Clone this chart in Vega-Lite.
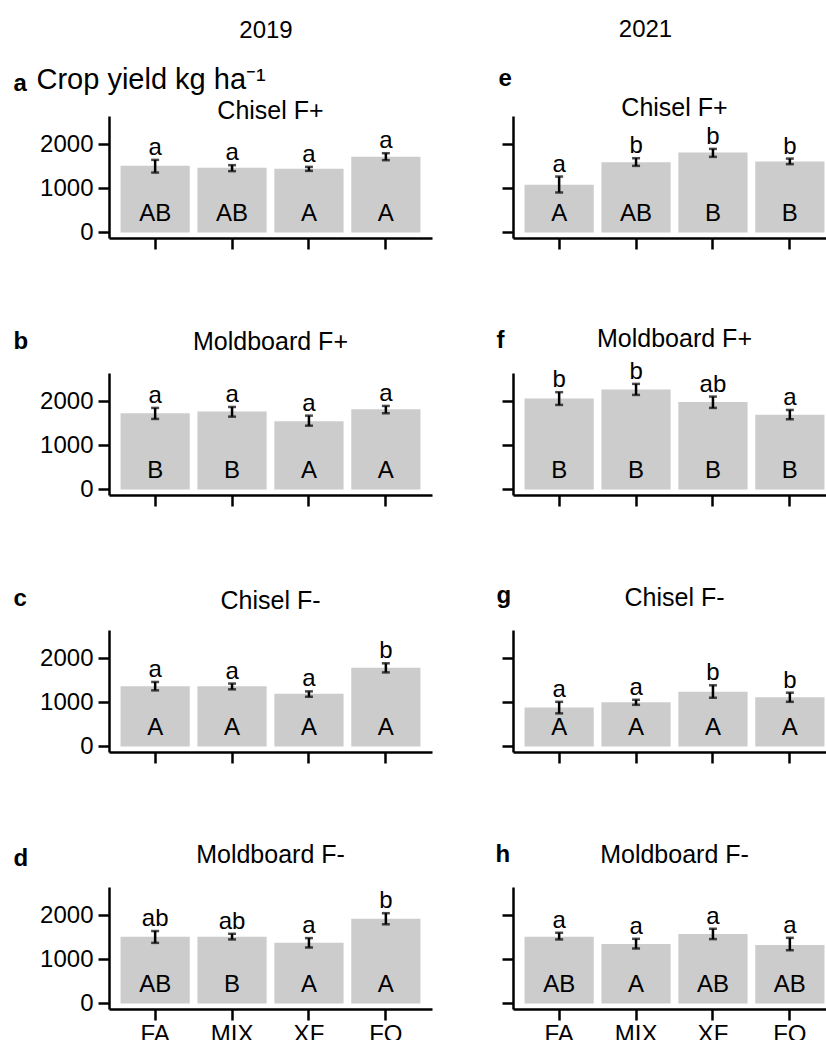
{
  "$schema": "https://vega.github.io/schema/vega-lite/v6.json",
  "usermeta": {"embedOptions": {"actions": false}},
  "padding": {"left": 13, "top": 17, "right": -10, "bottom": -5},
  "title": {"text": "2019", "anchor": "start", "frame": "bounds", "align": "center", "dx": 253, "offset": -44, "fontSize": 24, "fontWeight": "normal", "baseline": "alphabetic"},
  "datasets": {
    "yield": [
      {"panel": "a", "trt": "FA", "mean": 1509, "lo": 1357, "hi": 1645, "lower": "a", "upper": "AB"},
      {"panel": "a", "trt": "MIX", "mean": 1464, "lo": 1389, "hi": 1525, "lower": "a", "upper": "AB"},
      {"panel": "a", "trt": "XF", "mean": 1441, "lo": 1396, "hi": 1486, "lower": "a", "upper": "A"},
      {"panel": "a", "trt": "FO", "mean": 1713, "lo": 1638, "hi": 1796, "lower": "a", "upper": "A"},
      {"panel": "b", "trt": "FA", "mean": 1727, "lo": 1598, "hi": 1848, "lower": "a", "upper": "B"},
      {"panel": "b", "trt": "MIX", "mean": 1764, "lo": 1650, "hi": 1870, "lower": "a", "upper": "B"},
      {"panel": "b", "trt": "XF", "mean": 1545, "lo": 1445, "hi": 1673, "lower": "a", "upper": "A"},
      {"panel": "b", "trt": "FO", "mean": 1818, "lo": 1727, "hi": 1893, "lower": "a", "upper": "A"},
      {"panel": "c", "trt": "FA", "mean": 1363, "lo": 1271, "hi": 1462, "lower": "a", "upper": "A"},
      {"panel": "c", "trt": "MIX", "mean": 1363, "lo": 1294, "hi": 1425, "lower": "a", "upper": "A"},
      {"panel": "c", "trt": "XF", "mean": 1195, "lo": 1126, "hi": 1248, "lower": "a", "upper": "A"},
      {"panel": "c", "trt": "FO", "mean": 1784, "lo": 1678, "hi": 1885, "lower": "b", "upper": "A"},
      {"panel": "d", "trt": "FA", "mean": 1510, "lo": 1373, "hi": 1641, "lower": "ab", "upper": "AB"},
      {"panel": "d", "trt": "MIX", "mean": 1510, "lo": 1451, "hi": 1579, "lower": "ab", "upper": "B"},
      {"panel": "d", "trt": "XF", "mean": 1373, "lo": 1268, "hi": 1481, "lower": "a", "upper": "A"},
      {"panel": "d", "trt": "FO", "mean": 1922, "lo": 1794, "hi": 2046, "lower": "b", "upper": "A"},
      {"panel": "e", "trt": "FA", "mean": 1079, "lo": 905, "hi": 1267, "lower": "a", "upper": "A"},
      {"panel": "e", "trt": "MIX", "mean": 1593, "lo": 1509, "hi": 1683, "lower": "b", "upper": "AB"},
      {"panel": "e", "trt": "XF", "mean": 1810, "lo": 1713, "hi": 1894, "lower": "b", "upper": "B"},
      {"panel": "e", "trt": "FO", "mean": 1606, "lo": 1548, "hi": 1674, "lower": "b", "upper": "B"},
      {"panel": "f", "trt": "FA", "mean": 2059, "lo": 1916, "hi": 2205, "lower": "b", "upper": "B"},
      {"panel": "f", "trt": "MIX", "mean": 2264, "lo": 2143, "hi": 2393, "lower": "b", "upper": "B"},
      {"panel": "f", "trt": "XF", "mean": 1984, "lo": 1848, "hi": 2105, "lower": "ab", "upper": "B"},
      {"panel": "f", "trt": "FO", "mean": 1695, "lo": 1591, "hi": 1802, "lower": "a", "upper": "B"},
      {"panel": "g", "trt": "FA", "mean": 880, "lo": 749, "hi": 1011, "lower": "a", "upper": "A"},
      {"panel": "g", "trt": "MIX", "mean": 1002, "lo": 943, "hi": 1057, "lower": "a", "upper": "A"},
      {"panel": "g", "trt": "XF", "mean": 1241, "lo": 1103, "hi": 1386, "lower": "b", "upper": "A"},
      {"panel": "g", "trt": "FO", "mean": 1117, "lo": 1011, "hi": 1218, "lower": "b", "upper": "A"},
      {"panel": "h", "trt": "FA", "mean": 1510, "lo": 1451, "hi": 1602, "lower": "a", "upper": "AB"},
      {"panel": "h", "trt": "MIX", "mean": 1350, "lo": 1245, "hi": 1465, "lower": "a", "upper": "A"},
      {"panel": "h", "trt": "XF", "mean": 1572, "lo": 1458, "hi": 1693, "lower": "a", "upper": "AB"},
      {"panel": "h", "trt": "FO", "mean": 1327, "lo": 1206, "hi": 1487, "lower": "a", "upper": "AB"}
    ]
  },
  "data": {"name": "yield"},
  "columns": 2,
  "spacing": {"row": 135, "column": 81},
  "bounds": "flush",
  "concat": [
    {
      "width": 323, "height": 122,
      "title": {"text": "Chisel F+", "offset": -59},
      "transform": [{"filter": {"field": "panel", "equal": "a"}}],
      "encoding": {"x": {"field": "trt", "type": "nominal", "sort": ["FA", "MIX", "XF", "FO"], "scale": {"paddingInner": 0.1, "paddingOuter": 0.15},
        "axis": {"title": "Crop yield kg ha⁻¹", "titleX": -73, "titleY": -149.7, "titleFontSize": 29, "titleFontWeight": "normal", "labels": false}}},
      "layer": [
        {"mark": {"type": "bar", "color": "#cccccc"}, "encoding": {"y": {"field": "mean", "type": "quantitative", "scale": {"domain": [-127, 2640], "nice": false, "zero": false}, "axis": {"title": "a", "titleX": -96, "titleY": -26, "values": [0, 1000, 2000], "format": "d"}}}},
        {"mark": {"type": "rule", "color": "black", "strokeWidth": 2.5}, "encoding": {"y": {"field": "lo", "type": "quantitative"}, "y2": {"field": "hi"}}},
        {"mark": {"type": "tick", "color": "black", "thickness": 2.5, "size": 8}, "encoding": {"y": {"field": "lo", "type": "quantitative"}}},
        {"mark": {"type": "tick", "color": "black", "thickness": 2.5, "size": 8}, "encoding": {"y": {"field": "hi", "type": "quantitative"}}},
        {"mark": {"type": "text", "fontSize": 24, "baseline": "alphabetic", "dy": -5}, "encoding": {"y": {"field": "hi", "type": "quantitative"}, "text": {"field": "lower"}}},
        {"mark": {"type": "text", "fontSize": 24, "baseline": "alphabetic"}, "encoding": {"y": {"datum": 250, "type": "quantitative"}, "text": {"field": "upper"}}}
      ]
    },
    {
      "width": 323, "height": 122,
      "title": {"text": "Chisel F+", "offset": -103.5},
      "transform": [{"filter": {"field": "panel", "equal": "e"}}],
      "encoding": {"x": {"field": "trt", "type": "nominal", "sort": ["FA", "MIX", "XF", "FO"], "scale": {"paddingInner": 0.1, "paddingOuter": 0.15},
        "axis": {"title": "2021", "titleX": 132, "titleY": -201.5, "titleAlign": "center", "titleFontWeight": "normal", "labels": false}}},
      "layer": [
        {"mark": {"type": "bar", "color": "#cccccc"}, "encoding": {"y": {"field": "mean", "type": "quantitative", "scale": {"domain": [-127, 2640], "nice": false, "zero": false}, "axis": {"title": "e", "titleX": -15, "titleY": -31, "values": [0, 1000, 2000], "labels": false}}}},
        {"mark": {"type": "rule", "color": "black", "strokeWidth": 2.5}, "encoding": {"y": {"field": "lo", "type": "quantitative"}, "y2": {"field": "hi"}}},
        {"mark": {"type": "tick", "color": "black", "thickness": 2.5, "size": 8}, "encoding": {"y": {"field": "lo", "type": "quantitative"}}},
        {"mark": {"type": "tick", "color": "black", "thickness": 2.5, "size": 8}, "encoding": {"y": {"field": "hi", "type": "quantitative"}}},
        {"mark": {"type": "text", "fontSize": 24, "baseline": "alphabetic", "dy": -5}, "encoding": {"y": {"field": "hi", "type": "quantitative"}, "text": {"field": "lower"}}},
        {"mark": {"type": "text", "fontSize": 24, "baseline": "alphabetic"}, "encoding": {"y": {"datum": 250, "type": "quantitative"}, "text": {"field": "upper"}}}
      ]
    },
    {
      "width": 323, "height": 122,
      "title": {"text": "Moldboard F+", "offset": -25.7},
      "transform": [{"filter": {"field": "panel", "equal": "b"}}],
      "encoding": {"x": {"field": "trt", "type": "nominal", "sort": ["FA", "MIX", "XF", "FO"], "scale": {"paddingInner": 0.1, "paddingOuter": 0.15}, "axis": {"title": null, "labels": false}}},
      "layer": [
        {"mark": {"type": "bar", "color": "#cccccc"}, "encoding": {"y": {"field": "mean", "type": "quantitative", "scale": {"domain": [-127, 2640], "nice": false, "zero": false}, "axis": {"title": "b", "titleX": -96, "titleY": -24.7, "values": [0, 1000, 2000], "format": "d"}}}},
        {"mark": {"type": "rule", "color": "black", "strokeWidth": 2.5}, "encoding": {"y": {"field": "lo", "type": "quantitative"}, "y2": {"field": "hi"}}},
        {"mark": {"type": "tick", "color": "black", "thickness": 2.5, "size": 8}, "encoding": {"y": {"field": "lo", "type": "quantitative"}}},
        {"mark": {"type": "tick", "color": "black", "thickness": 2.5, "size": 8}, "encoding": {"y": {"field": "hi", "type": "quantitative"}}},
        {"mark": {"type": "text", "fontSize": 24, "baseline": "alphabetic", "dy": -5}, "encoding": {"y": {"field": "hi", "type": "quantitative"}, "text": {"field": "lower"}}},
        {"mark": {"type": "text", "fontSize": 24, "baseline": "alphabetic"}, "encoding": {"y": {"datum": 250, "type": "quantitative"}, "text": {"field": "upper"}}}
      ]
    },
    {
      "width": 323, "height": 122,
      "title": {"text": "Moldboard F+", "offset": -23.4},
      "transform": [{"filter": {"field": "panel", "equal": "f"}}],
      "encoding": {"x": {"field": "trt", "type": "nominal", "sort": ["FA", "MIX", "XF", "FO"], "scale": {"paddingInner": 0.1, "paddingOuter": 0.15}, "axis": {"title": null, "labels": false}}},
      "layer": [
        {"mark": {"type": "bar", "color": "#cccccc"}, "encoding": {"y": {"field": "mean", "type": "quantitative", "scale": {"domain": [-127, 2640], "nice": false, "zero": false}, "axis": {"title": "f", "titleX": -17, "titleY": -25.4, "values": [0, 1000, 2000], "labels": false}}}},
        {"mark": {"type": "rule", "color": "black", "strokeWidth": 2.5}, "encoding": {"y": {"field": "lo", "type": "quantitative"}, "y2": {"field": "hi"}}},
        {"mark": {"type": "tick", "color": "black", "thickness": 2.5, "size": 8}, "encoding": {"y": {"field": "lo", "type": "quantitative"}}},
        {"mark": {"type": "tick", "color": "black", "thickness": 2.5, "size": 8}, "encoding": {"y": {"field": "hi", "type": "quantitative"}}},
        {"mark": {"type": "text", "fontSize": 24, "baseline": "alphabetic", "dy": -5}, "encoding": {"y": {"field": "hi", "type": "quantitative"}, "text": {"field": "lower"}}},
        {"mark": {"type": "text", "fontSize": 24, "baseline": "alphabetic"}, "encoding": {"y": {"datum": 250, "type": "quantitative"}, "text": {"field": "upper"}}}
      ]
    },
    {
      "width": 323, "height": 122,
      "title": {"text": "Chisel F-", "offset": -28},
      "transform": [{"filter": {"field": "panel", "equal": "c"}}],
      "encoding": {"x": {"field": "trt", "type": "nominal", "sort": ["FA", "MIX", "XF", "FO"], "scale": {"paddingInner": 0.1, "paddingOuter": 0.15}, "axis": {"title": null, "labels": false}}},
      "layer": [
        {"mark": {"type": "bar", "color": "#cccccc"}, "encoding": {"y": {"field": "mean", "type": "quantitative", "scale": {"domain": [-127, 2640], "nice": false, "zero": false}, "axis": {"title": "c", "titleX": -96, "titleY": -25, "values": [0, 1000, 2000], "format": "d"}}}},
        {"mark": {"type": "rule", "color": "black", "strokeWidth": 2.5}, "encoding": {"y": {"field": "lo", "type": "quantitative"}, "y2": {"field": "hi"}}},
        {"mark": {"type": "tick", "color": "black", "thickness": 2.5, "size": 8}, "encoding": {"y": {"field": "lo", "type": "quantitative"}}},
        {"mark": {"type": "tick", "color": "black", "thickness": 2.5, "size": 8}, "encoding": {"y": {"field": "hi", "type": "quantitative"}}},
        {"mark": {"type": "text", "fontSize": 24, "baseline": "alphabetic", "dy": -5}, "encoding": {"y": {"field": "hi", "type": "quantitative"}, "text": {"field": "lower"}}},
        {"mark": {"type": "text", "fontSize": 24, "baseline": "alphabetic"}, "encoding": {"y": {"datum": 250, "type": "quantitative"}, "text": {"field": "upper"}}}
      ]
    },
    {
      "width": 323, "height": 122,
      "title": {"text": "Chisel F-", "offset": -27.7},
      "transform": [{"filter": {"field": "panel", "equal": "g"}}],
      "encoding": {"x": {"field": "trt", "type": "nominal", "sort": ["FA", "MIX", "XF", "FO"], "scale": {"paddingInner": 0.1, "paddingOuter": 0.15}, "axis": {"title": null, "labels": false}}},
      "layer": [
        {"mark": {"type": "bar", "color": "#cccccc"}, "encoding": {"y": {"field": "mean", "type": "quantitative", "scale": {"domain": [-127, 2640], "nice": false, "zero": false}, "axis": {"title": "g", "titleX": -17, "titleY": -27.3, "values": [0, 1000, 2000], "labels": false}}}},
        {"mark": {"type": "rule", "color": "black", "strokeWidth": 2.5}, "encoding": {"y": {"field": "lo", "type": "quantitative"}, "y2": {"field": "hi"}}},
        {"mark": {"type": "tick", "color": "black", "thickness": 2.5, "size": 8}, "encoding": {"y": {"field": "lo", "type": "quantitative"}}},
        {"mark": {"type": "tick", "color": "black", "thickness": 2.5, "size": 8}, "encoding": {"y": {"field": "hi", "type": "quantitative"}}},
        {"mark": {"type": "text", "fontSize": 24, "baseline": "alphabetic", "dy": -5}, "encoding": {"y": {"field": "hi", "type": "quantitative"}, "text": {"field": "lower"}}},
        {"mark": {"type": "text", "fontSize": 24, "baseline": "alphabetic"}, "encoding": {"y": {"datum": 250, "type": "quantitative"}, "text": {"field": "upper"}}}
      ]
    },
    {
      "width": 323, "height": 122,
      "title": {"text": "Moldboard F-", "offset": -22},
      "transform": [{"filter": {"field": "panel", "equal": "d"}}],
      "encoding": {"x": {"field": "trt", "type": "nominal", "sort": ["FA", "MIX", "XF", "FO"], "scale": {"paddingInner": 0.1, "paddingOuter": 0.15}, "axis": {"title": null, "labels": true}}},
      "layer": [
        {"mark": {"type": "bar", "color": "#cccccc"}, "encoding": {"y": {"field": "mean", "type": "quantitative", "scale": {"domain": [-127, 2640], "nice": false, "zero": false}, "axis": {"title": "d", "titleX": -96, "titleY": -22, "values": [0, 1000, 2000], "format": "d"}}}},
        {"mark": {"type": "rule", "color": "black", "strokeWidth": 2.5}, "encoding": {"y": {"field": "lo", "type": "quantitative"}, "y2": {"field": "hi"}}},
        {"mark": {"type": "tick", "color": "black", "thickness": 2.5, "size": 8}, "encoding": {"y": {"field": "lo", "type": "quantitative"}}},
        {"mark": {"type": "tick", "color": "black", "thickness": 2.5, "size": 8}, "encoding": {"y": {"field": "hi", "type": "quantitative"}}},
        {"mark": {"type": "text", "fontSize": 24, "baseline": "alphabetic", "dy": -5}, "encoding": {"y": {"field": "hi", "type": "quantitative"}, "text": {"field": "lower"}}},
        {"mark": {"type": "text", "fontSize": 24, "baseline": "alphabetic"}, "encoding": {"y": {"datum": 250, "type": "quantitative"}, "text": {"field": "upper"}}}
      ]
    },
    {
      "width": 323, "height": 122,
      "title": {"text": "Moldboard F-", "offset": -26},
      "transform": [{"filter": {"field": "panel", "equal": "h"}}],
      "encoding": {"x": {"field": "trt", "type": "nominal", "sort": ["FA", "MIX", "XF", "FO"], "scale": {"paddingInner": 0.1, "paddingOuter": 0.15}, "axis": {"title": null, "labels": true}}},
      "layer": [
        {"mark": {"type": "bar", "color": "#cccccc"}, "encoding": {"y": {"field": "mean", "type": "quantitative", "scale": {"domain": [-127, 2640], "nice": false, "zero": false}, "axis": {"title": "h", "titleX": -18, "titleY": -26, "values": [0, 1000, 2000], "labels": false}}}},
        {"mark": {"type": "rule", "color": "black", "strokeWidth": 2.5}, "encoding": {"y": {"field": "lo", "type": "quantitative"}, "y2": {"field": "hi"}}},
        {"mark": {"type": "tick", "color": "black", "thickness": 2.5, "size": 8}, "encoding": {"y": {"field": "lo", "type": "quantitative"}}},
        {"mark": {"type": "tick", "color": "black", "thickness": 2.5, "size": 8}, "encoding": {"y": {"field": "hi", "type": "quantitative"}}},
        {"mark": {"type": "text", "fontSize": 24, "baseline": "alphabetic", "dy": -5}, "encoding": {"y": {"field": "hi", "type": "quantitative"}, "text": {"field": "lower"}}},
        {"mark": {"type": "text", "fontSize": 24, "baseline": "alphabetic"}, "encoding": {"y": {"datum": 250, "type": "quantitative"}, "text": {"field": "upper"}}}
      ]
    }
  ],
  "config": {
    "font": "Liberation Sans",
    "view": {"stroke": null},
    "axis": {"domainColor": "black", "domainWidth": 2.5, "tickColor": "black", "tickWidth": 2.5, "tickSize": 11, "labelColor": "black", "labelFontSize": 24, "labelFont": "Liberation Sans", "grid": false, "titleFont": "Liberation Sans", "titleColor": "black", "titleFontWeight": "bold", "titleFontSize": 24, "titleAngle": 0, "titleAlign": "left", "titleBaseline": "alphabetic"},
    "axisY": {"labelPadding": 5},
    "axisX": {"labelAngle": 0, "labelPadding": 2},
    "title": {"font": "Liberation Sans", "fontSize": 25, "fontWeight": "normal", "color": "black", "baseline": "alphabetic", "anchor": "middle", "frame": "group"},
    "text": {"font": "Liberation Sans", "color": "black"}
  }
}
